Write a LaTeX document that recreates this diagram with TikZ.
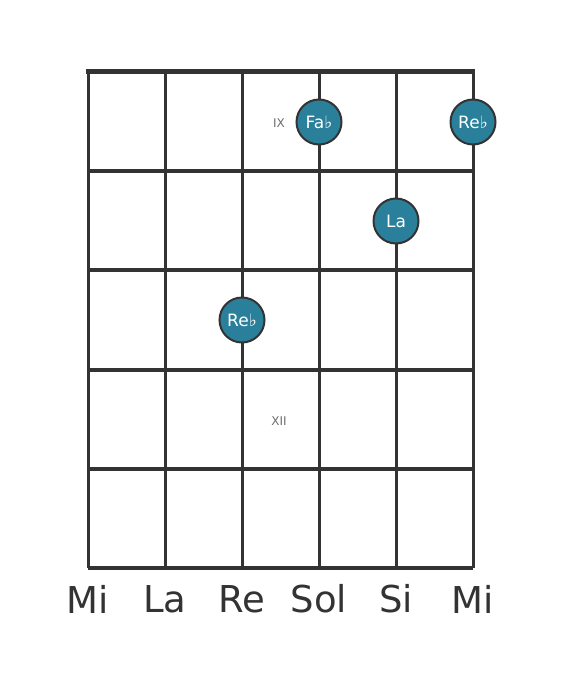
\documentclass[tikz,border=0pt]{standalone}
\usepackage{fontspec}
\setmainfont{DejaVu Sans}
\definecolor{dotfill}{RGB}{42,128,155}
\definecolor{gridc}{RGB}{51,51,51}
\definecolor{fretlbl}{RGB}{110,110,110}
\begin{document}
\begin{tikzpicture}[x=1pt,y=-1pt,
  stringline/.style={draw=gridc,line width=3pt},
  fretline/.style={draw=gridc,line width=4pt},
  finger/.style={circle,fill=dotfill,draw=gridc,line width=2pt,minimum size=45pt,inner sep=0pt,text=white,font=\fontsize{17}{17}\selectfont},
  strname/.style={text=gridc,font=\fontsize{37}{37}\selectfont},
  fretnum/.style={text=fretlbl,font=\fontsize{12}{12}\selectfont}]
\useasboundingbox (0,0) rectangle (568,682);
\foreach \i/\x in {0/88,1/165,2/242,3/319,4/396,5/473}{
  \coordinate (s\i t) at (\x,72);
  \coordinate (s\i b) at (\x,568);
  \draw[stringline] (s\i t) -- (s\i b);
}
\foreach \j/\y in {1/171,2/270,3/370,4/469,5/568}{
  \coordinate (f\j l) at (88,\y);
  \coordinate (f\j r) at (473,\y);
  \draw[fretline] (f\j l) -- (f\j r);
}
\coordinate (f0l) at (86,72);
\coordinate (f0r) at (475,72);
\draw[draw=gridc,line width=5pt] (f0l) -- (f0r);
\node[fretnum] (ix) at (279,123) {IX};
\node[fretnum] (xii) at (279,421) {XII};
\node[finger] (n1) at (319,122) {Fa♭};
\node[finger] (n2) at (473,122) {Re♭};
\node[finger] (n3) at (396,221) {La};
\node[finger] (n4) at (242,320) {Re♭};
\node[strname] (l0) at (88,599) {Mi};
\node[strname] (l1) at (165,599) {La};
\node[strname] (l2) at (242,599) {Re};
\node[strname] (l3) at (319,599) {Sol};
\node[strname] (l4) at (396,599) {Si};
\node[strname] (l5) at (473,599) {Mi};
\end{tikzpicture}
\end{document}
